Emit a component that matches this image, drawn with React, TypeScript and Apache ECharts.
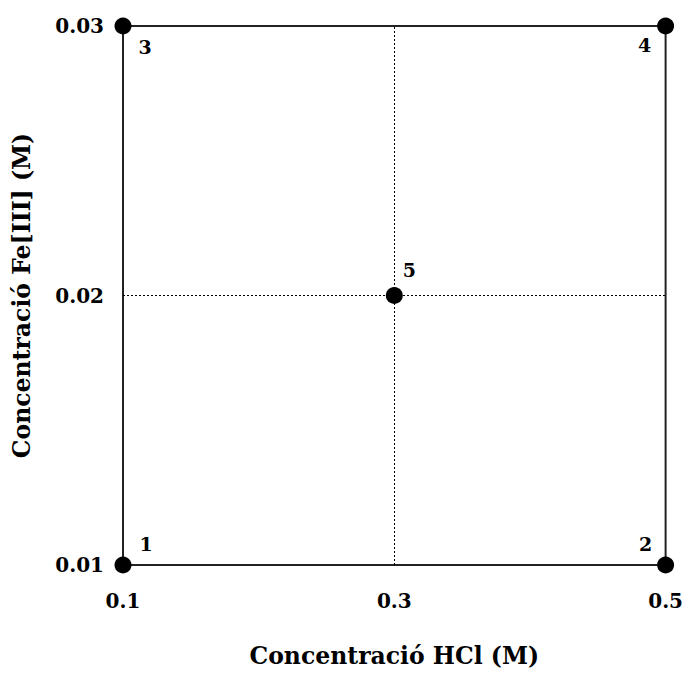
import React, { useEffect, useRef } from "react";
import * as echarts from "echarts";

const hclValues = [0.1, 0.5, 0.1, 0.5, 0.3];
const feValues = [0.01, 0.01, 0.03, 0.03, 0.02];
const pointLabels = ["1", "2", "3", "4", "5"];
const xTicks = [0.1, 0.3, 0.5];
const yTicks = [0.01, 0.02, 0.03];

const labelOffsets: [number, number][] = [
  [23, -21],
  [-20, -21],
  [22, 21],
  [-21, 19],
  [15, -26],
];

const FONT = "DejaVu Serif";

export default function App() {
  const ref = useRef<HTMLDivElement>(null);
  useEffect(() => {
    if (!ref.current) return;
    const chart = echarts.init(ref.current, null, { renderer: "svg" });
    chart.setOption({
      animation: false,
      backgroundColor: "#fff",
      grid: {
        left: 123,
        right: 18,
        top: 26,
        bottom: 102,
        show: true,
        borderColor: "#222",
        borderWidth: 2,
        backgroundColor: "transparent",
      },
      xAxis: {
        type: "value",
        min: 0.1,
        max: 0.5,
        interval: 0.2,
        name: "Concentració HCl (M)",
        nameLocation: "middle",
        nameGap: 79,
        nameTextStyle: { fontFamily: FONT, fontWeight: "bold", fontSize: 23.5, color: "#000" },
        axisLine: { show: false },
        axisTick: { show: false },
        splitLine: { show: false },
        axisLabel: {
          margin: 26,
          fontFamily: FONT,
          fontWeight: "bold",
          fontSize: 20,
          color: "#000",
          customValues: xTicks,
          formatter: (v: number) => v.toFixed(1),
        },
      },
      yAxis: {
        type: "value",
        min: 0.01,
        max: 0.03,
        interval: 0.01,
        name: "Concentració Fe[III] (M)",
        nameLocation: "middle",
        nameGap: 89,
        nameTextStyle: { fontFamily: FONT, fontWeight: "bold", fontSize: 23.5, color: "#000" },
        axisLine: { show: false },
        axisTick: { show: false },
        splitLine: { show: false },
        axisLabel: {
          margin: 19,
          fontFamily: FONT,
          fontWeight: "bold",
          fontSize: 20,
          color: "#000",
          customValues: yTicks,
          formatter: (v: number) => v.toFixed(2),
        },
      },
      series: [
        {
          type: "line",
          data: [],
          z: 1,
          markLine: {
            silent: true,
            symbol: "none",
            label: { show: false },
            lineStyle: { color: "#000", width: 1, type: [2, 2] },
            data: [{ xAxis: 0.3 }, { yAxis: 0.02 }],
          },
        },
        {
          type: "scatter",
          z: 5,
          symbol: "circle",
          symbolSize: 17,
          itemStyle: { color: "#000", opacity: 1 },
          data: hclValues.map((x, i) => ({
            value: [x, feValues[i]],
            label: {
              show: true,
              position: "inside",
              offset: labelOffsets[i],
              formatter: pointLabels[i],
              fontFamily: FONT,
              fontWeight: "bold",
              fontSize: 19,
              color: "#000",
              textBorderWidth: 0,
              opacity: 1,
            },
          })),
        },
      ],
    });
    return () => chart.dispose();
  }, []);
  return (
    <div
      ref={ref}
      style={{ position: "fixed", left: 0, top: 0, width: 686, height: 673, background: "#fff" }}
    />
  );
}
